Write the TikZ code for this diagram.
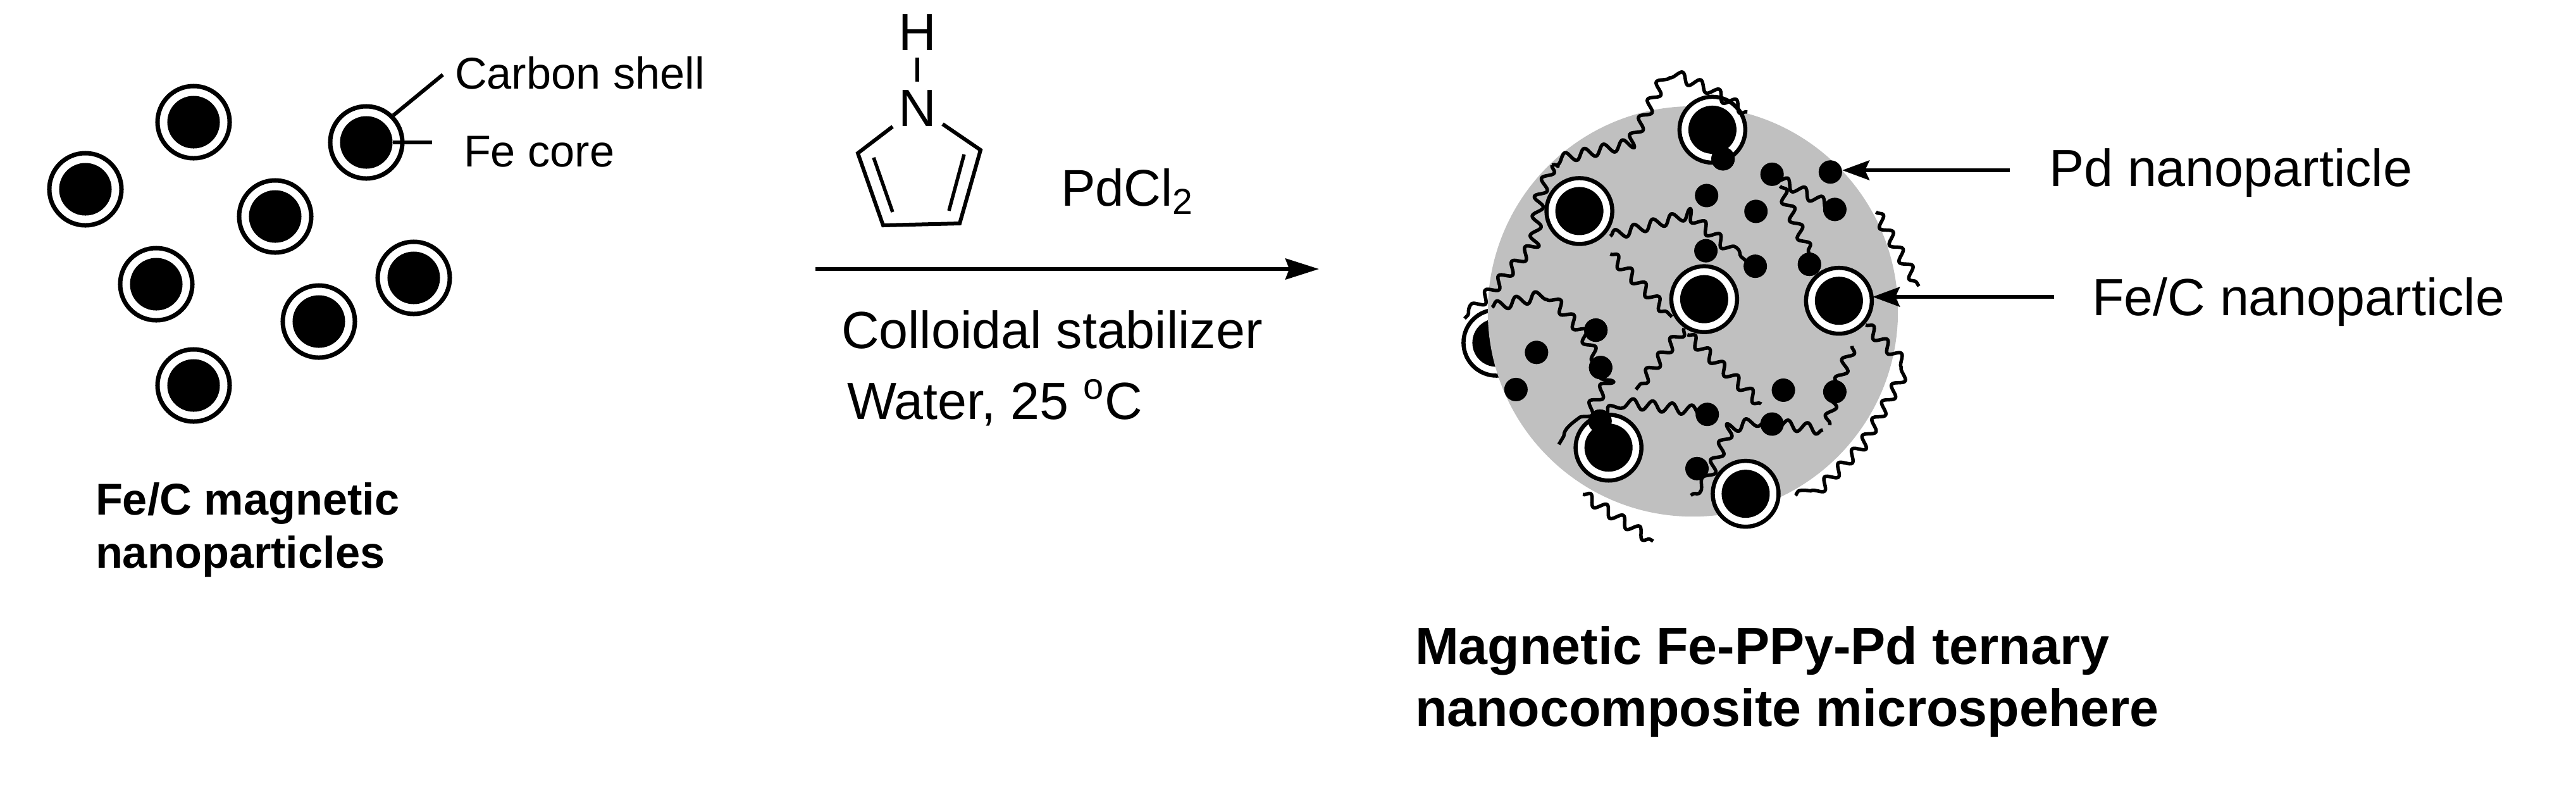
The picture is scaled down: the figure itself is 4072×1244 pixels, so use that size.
\documentclass[tikz,border=0pt]{standalone}
\usepackage{fontspec}
\setmainfont{Liberation Sans}
\usetikzlibrary{arrows.meta,decorations.pathmorphing}
\newcommand{\fsA}{\fontsize{20}{24}\selectfont}
\newcommand{\fsB}{\fontsize{23.5}{28}\selectfont}
\newcommand{\fsC}{\fontsize{23.2}{28}\selectfont}
\definecolor{sphgrey}{HTML}{C0C0C0}
\tikzset{
  txt/.style={anchor=base west,inner sep=0pt,outer sep=0pt,text=black},
  smalltxt/.style={txt,font=\fsA},
  bigtxt/.style={txt,font=\fsB},
  shellA/.style={circle,draw=black,fill=white,line width=.07cm,minimum size=1.14cm,inner sep=0pt},
  coreA/.style={circle,fill=black,minimum size=.83cm,inner sep=0pt},
  shellB/.style={circle,draw=black,fill=white,line width=.065cm,minimum size=1.04cm,inner sep=0pt},
  coreB/.style={circle,fill=black,minimum size=.76cm,inner sep=0pt},
  pd/.style={circle,fill=black,minimum size=.37cm,inner sep=0pt},
  bond/.style={draw=black,line width=.06cm},
  dbond/.style={draw=black,line width=.055cm},
  leader/.style={draw=black,line width=.06cm},
  arrowline/.style={draw=black,line width=.06cm,-{Stealth[length=.53cm,width=.33cm,inset=.06cm]}},
  ptrline/.style={draw=black,line width=.06cm,-{Stealth[length=.43cm,width=.31cm,inset=.07cm]}},
  chain/.style={draw=black,line width=.055cm,line join=round,decorate,decoration={snake,amplitude=.08cm,segment length=.31cm}},
  sphere/.style={circle,fill=sphgrey,minimum size=6.48cm,inner sep=0pt}
}
\begin{document}
\begin{tikzpicture}[x=.01cm,y=-.01cm]
\useasboundingbox (0,0) rectangle (4072,1244);
% left particles
\foreach \n/\a/\b in {a/306/193,b/135/299,c/579/225,d/435/342,e/247/449,f/654/439,g/504/508,h/306/609}{
  \node[shellA] (s\n) at (\a,\b) {};
  \node[coreA] (k\n) at (\a,\b) {};
}
\node[smalltxt] (lcarbon) at (719,140) {Carbon shell};
\node[smalltxt] (lfe) at (733,263) {Fe core};
\coordinate (cs) at (700,118);
\coordinate (cf) at (683,225);
\draw[leader] (cs) -- (sc.45);
\draw[leader] (cf) -- (kc.east);
\node[txt,font=\fsA\bfseries] (lb1) at (151,813) {Fe/C magnetic};
\node[txt,font=\fsA\bfseries] (lb2) at (151,897) {nanoparticles};
% pyrrole
\node[bigtxt,anchor=base] (hh) at (1450,79.5) {H};
\node[bigtxt,anchor=base] (nn) at (1450,199) {N};
\coordinate (r1) at (1411,200);
\coordinate (r2) at (1356,242);
\coordinate (r3) at (1396,356);
\coordinate (r4) at (1517,353);
\coordinate (r5) at (1550,237);
\coordinate (r6) at (1490,196);
\coordinate (hb1) at (1450,91);
\coordinate (hb2) at (1450,129);
\coordinate (d1) at (1381,249);
\coordinate (d2) at (1411,335);
\coordinate (d3) at (1524,244);
\coordinate (d4) at (1500,333);
\draw[bond] (hb1) -- (hb2);
\draw[bond,line join=miter] (r1) -- (r2) -- (r3) -- (r4) -- (r5) -- (r6);
\draw[dbond] (d1) -- (d2);
\draw[dbond] (d3) -- (d4);
\node[txt,font=\fsC] (pdcl) at (1677,325) {PdCl\textsubscript{2}};
\coordinate (ar1) at (1289,425);
\coordinate (ar2) at (2085,425);
\draw[arrowline] (ar1) -- (ar2);
\node[bigtxt] (coll) at (1330,550) {Colloidal stabilizer};
\node[bigtxt] (water) at (1339,662) {Water, 25 \textsuperscript{o}C};
% right: microsphere in zoom units
\begin{scope}[shift={(2250,80)},x=.00542cm,y=-.0051cm]
  \node[shellB] (p5) at (213,905) {};
  \node[coreB] (q5) at (213,905) {};
  \node[sphere] (sph) at (786,808) {};
  \foreach \n/\a/\b in {1/843/245,2/455/497,3/819/770,4/1212/775,6/540/1230,7/940/1373}{
    \node[shellB] (p\n) at (\a,\b) {};
    \node[coreB] (q\n) at (\a,\b) {};
  }
  \foreach \n/\a/\b in {a/874/335,b/1017/383,c/1187/376,d/826/449,e/970/498,f/1200/492,g/824/620,h/968/668,i/1126/662,j/503/866,k/330/935,l/517/982,m/270/1050,n/1050/1052,o/1200/1057,p/828/1127,q/1017/1157,r/515/1148,s/798/1295}{
    \node[pd] (d\n) at (\a,\b) {};
  }
  \draw[chain] (945,190) -- (835,120) -- (735,75) -- (690,170) -- (630,295) -- (375,355);
  \draw[chain] (375,355) -- (340,450) -- (325,600) -- (195,750) -- (120,830);
  \draw[chain] (200,795) -- (340,760) -- (440,880) -- (510,1025) -- (440,1140) -- (395,1220);
  \draw[chain] (545,575) -- (780,505) -- (945,655);
  \draw[chain] (545,630) -- (725,825);
  \draw[chain] (760,860) -- (620,1050);
  \draw[chain] (770,880) -- (985,1095);
  \draw[chain] (535,1125) -- (565,1100) -- (830,1130);
  \draw[chain] (1040,400) -- (1200,490);
  \draw[chain] (1040,420) -- (1130,640);
  \draw[chain] (1250,915) -- (1200,1060) -- (1185,1160);
  \draw[chain] (1165,1175) -- (990,1150) -- (900,1175) -- (830,1340) -- (780,1378);
  \draw[chain] (1290,850) -- (1385,950) -- (1250,1200) -- (1085,1378);
  \draw[chain] (1320,500) -- (1445,730);
  \draw[chain] (465,1375) -- (670,1520);
  \foreach \n/\a/\b in {a/874/335,j/503/866,l/517/982,r/515/1148,i/1126/662}{
    \node[pd] (e\n) at (\a,\b) {};
  }
\end{scope}
\node[bigtxt] (lpd) at (3239,294) {Pd nanoparticle};
\node[bigtxt] (lfc) at (3307,498) {Fe/C nanoparticle};
\coordinate (tp) at (3177,269);
\coordinate (tf) at (3247,469);
\coordinate (hp) at (2912,269);
\coordinate (hf) at (2960,469);
\draw[ptrline] (tp) -- (hp);
\draw[ptrline] (tf) -- (hf);
\node[txt,font=\fsB\bfseries] (lm1) at (2237,1049) {Magnetic Fe-PPy-Pd ternary};
\node[txt,font=\fsB\bfseries] (lm2) at (2237,1147) {nanocomposite microspehere};
\end{tikzpicture}
\end{document}
